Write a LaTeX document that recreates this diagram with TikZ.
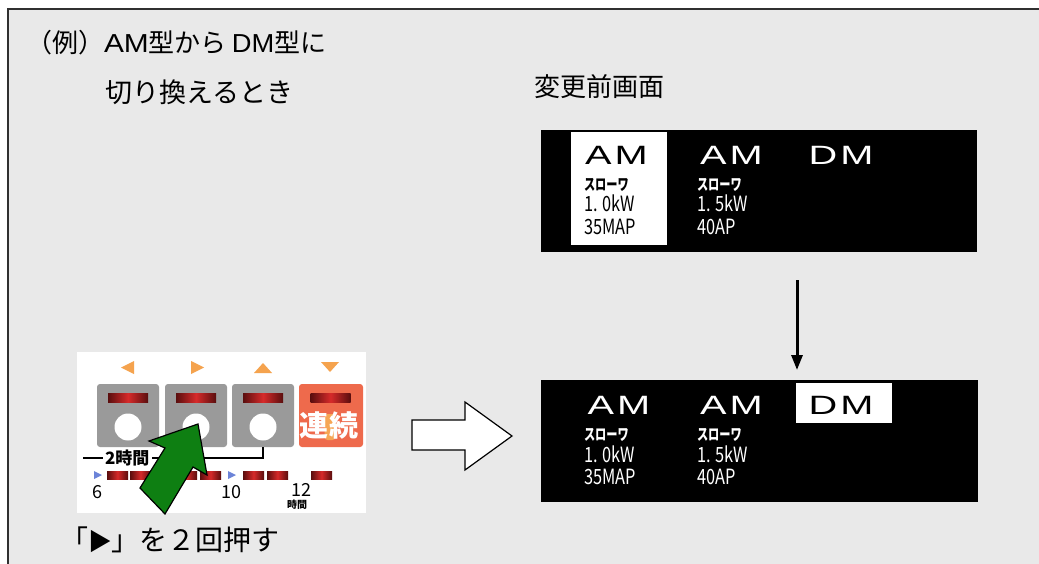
\documentclass[tikz,border=0pt]{standalone}
\usepackage{fontspec}
\usepackage{graphicx}
\setmainfont{Noto Sans CJK JP}
\newfontfamily\lat{Liberation Sans}
\usetikzlibrary{arrows.meta}
\definecolor{bgc}{HTML}{E9E9E9}
\definecolor{framec}{HTML}{303030}
\definecolor{btngrey}{HTML}{9A9A9A}
\definecolor{btnred}{HTML}{EE6A4C}
\definecolor{trio}{HTML}{F5A34E}
\definecolor{ledd}{HTML}{5A0E0E}
\definecolor{ledr}{HTML}{D62A2A}
\definecolor{blutri}{HTML}{6C84D8}
\definecolor{garrow}{HTML}{0E7F12}
\definecolor{blobc}{HTML}{F6A655}
\begin{document}
\begin{tikzpicture}[x=1pt,y=-1pt,
  lbl/.style={inner sep=0pt, outer sep=0pt},
  ttl/.style={lbl, anchor=west, font=\fontsize{26}{26}\selectfont},
  scr/.style={lbl, fill=black},
  hl/.style={lbl, fill=white},
  big/.style={lbl, text=white, font=\lat\fontsize{26.5}{26.5}\selectfont},
  sm/.style={lbl, anchor=west, text=white, font=\fontsize{16}{16}\selectfont\bfseries},
  num/.style={lbl, anchor=west, text=white, font=\fontsize{21}{21}\selectfont},
  btn/.style={lbl, fill=btngrey, rounded corners=3pt, minimum width=62pt, minimum height=63pt},
  led/.style={lbl, left color=ledd, right color=ledd, middle color=ledr, minimum width=40pt, minimum height=9pt},
  seg/.style={lbl, left color=ledd, right color=ledd, middle color=ledr, minimum width=21pt, minimum height=8pt},
  hole/.style={lbl, fill=white, circle, minimum size=27pt},
  digit/.style={lbl, font=\fontsize{18}{18}\selectfont},
  thinl/.style={draw=black, line width=1.1pt},
  downarr/.style={line width=3pt, -{Triangle[length=15pt,width=11pt]}}
]
\useasboundingbox (0,0) rectangle (1039,564);
\clip (0,0) rectangle (1039,564);
% frame and background
\fill[bgc] (8,9) rectangle (1045,570);
\draw[framec, line width=2pt] (8,570) -- (8,9) -- (1045,9);

% titles
\node[ttl] (t1) at (26,43) {（例）{\lat\scalebox{1.15}[1]{AM}}型から\hspace{5pt}{\lat\scalebox{1.05}[1]{DM}}型に};
\node[lbl, anchor=west, font=\fontsize{27}{27}\selectfont] (t2) at (105.5,92) {切り換えるとき};
\node[lbl, anchor=west, font=\fontsize{26}{26}\selectfont] (t3) at (534,87) {変更前画面};

% top screen
\node[scr, minimum width=436pt, minimum height=122pt] (scrA) at (759,191) {};
\node[hl, minimum width=96pt, minimum height=113pt] (hlA) at (619,188.5) {};
\node[big, text=black] (amA1) at (616.5,155) {\scalebox{1.5}[1]{A\hspace{2pt}M}};
\node[big] (amA2) at (731.5,155) {\scalebox{1.5}[1]{A\hspace{2pt}M}};
\node[big] (dmA) at (841,155) {\scalebox{1.5}[1]{D\hspace{2pt}M}};
\node[sm, text=black] (sA1) at (584,185) {\scalebox{0.7}[1]{スローワ}};
\node[num, text=black] (kA1) at (584,203.5) {\scalebox{0.78}[1]{1. 0kW}};
\node[num, text=black] (mA1) at (584,227) {\scalebox{0.78}[1]{35MAP}};
\node[sm] (sA2) at (697,185) {\scalebox{0.7}[1]{スローワ}};
\node[num] (kA2) at (697,203.5) {\scalebox{0.78}[1]{1. 5kW}};
\node[num] (mA2) at (697,227) {\scalebox{0.78}[1]{40AP}};

% bottom screen
\node[scr, minimum width=437pt, minimum height=122pt] (scrB) at (759.5,441) {};
\node[hl, minimum width=96pt, minimum height=40pt] (hlB) at (844,403) {};
\node[big] (amB1) at (619,405) {\scalebox{1.5}[1]{A\hspace{2pt}M}};
\node[big] (amB2) at (731.5,405) {\scalebox{1.5}[1]{A\hspace{2pt}M}};
\node[big, text=black] (dmB) at (841,405) {\scalebox{1.5}[1]{D\hspace{2pt}M}};
\node[sm] (sB1) at (584,435) {\scalebox{0.7}[1]{スローワ}};
\node[num] (kB1) at (584,454) {\scalebox{0.78}[1]{1. 0kW}};
\node[num] (mB1) at (584,477) {\scalebox{0.78}[1]{35MAP}};
\node[sm] (sB2) at (697,435) {\scalebox{0.7}[1]{スローワ}};
\node[num] (kB2) at (697,454) {\scalebox{0.78}[1]{1. 5kW}};
\node[num] (mB2) at (697,477) {\scalebox{0.78}[1]{40AP}};

% down arrow between screens
\coordinate (dx) at (797,0);
\draw[downarr, shorten <=28pt, shorten >=10pt] (scrA.south -| dx) -- (scrB.north -| dx);

% hollow right arrow
\filldraw[fill=white, draw=black, line width=1.2pt]
  (412,420) -- (465,420) -- (465,402) -- (512,436) -- (465,470) -- (465,450) -- (412,450) -- cycle;

% control panel
\node[lbl, fill=white, minimum width=289pt, minimum height=161pt] (panel) at (221.5,432.5) {};
\fill[trio] (134,361) -- (134,374) -- (121,367.5) -- cycle;
\fill[trio] (191,361) -- (191,374) -- (204,367.5) -- cycle;
\fill[trio] (254,373) -- (272,373) -- (263,363) -- cycle;
\fill[trio] (321,362) -- (339,362) -- (330,372) -- cycle;

\node[btn] (btn1) at (128,415.5) {};
\node[btn] (btn2) at (196,415.5) {};
\node[btn] (btn3) at (263,415.5) {};
\node[btn, fill=btnred, minimum width=64pt] (btn4) at (331,415.5) {};
\node[led] (led1) at (128,398) {};
\node[led] (led2) at (196,398) {};
\node[led] (led3) at (263,398) {};
\node[led] (led4) at (330.5,398) {};
\node[hole] (h1) at (128,427) {};
\node[hole] (h2) at (196,427) {};
\node[hole] (h3) at (263,427) {};
\fill[blobc, rounded corners=3pt] (324.5,414) rectangle (335.5,440);
\node[lbl, text=white, font=\fontsize{29}{29}\selectfont\bfseries] (ren) at (329,425) {連\hspace{1pt}続};

% 2-hour bracket
\node[lbl, anchor=west, font=\fontsize{17}{17}\selectfont\bfseries] (two) at (105,458) {2時間};
\draw[thinl] ([xshift=-22pt]two.west) -- ([xshift=-2pt]two.west);
\draw[thinl] ([xshift=3pt]two.east) -| (btn3.south);

% timer row
\fill[blutri] (94,471) -- (94,479) -- (102,475) -- cycle;
\fill[blutri] (228,471) -- (228,479) -- (236,475) -- cycle;
\node[seg] (s1) at (117.5,475) {};
\node[seg] (s2) at (140.5,475) {};
\node[seg] (s3) at (163.5,475) {};
\node[seg] (s4) at (186.5,475) {};
\node[seg] (s5) at (210.5,475) {};
\node[seg] (s6) at (253.5,475) {};
\node[seg] (s7) at (277.5,475) {};
\node[seg] (s8) at (321.5,475) {};
\node[digit] (n6) at (97,492) {6};
\node[digit] (n10) at (231,492) {10};
\node[digit] (n12) at (301,490) {12};
\node[lbl, font=\fontsize{10}{10}\selectfont\bfseries] (jk) at (297,505) {時間};

% green pointer arrow
\filldraw[fill=garrow, draw=black, line width=1.2pt]
  (198,424) -- (207,475) -- (193,467) -- (165,514) -- (140,488) -- (165,448) -- (149,441) -- cycle;

% caption
\node[lbl, anchor=west, font=\fontsize{28}{28}\selectfont] (cap) at (60,540) {「\raisebox{0.5pt}{\scalebox{0.85}{▶}}」を２回押す};
\end{tikzpicture}
\end{document}
